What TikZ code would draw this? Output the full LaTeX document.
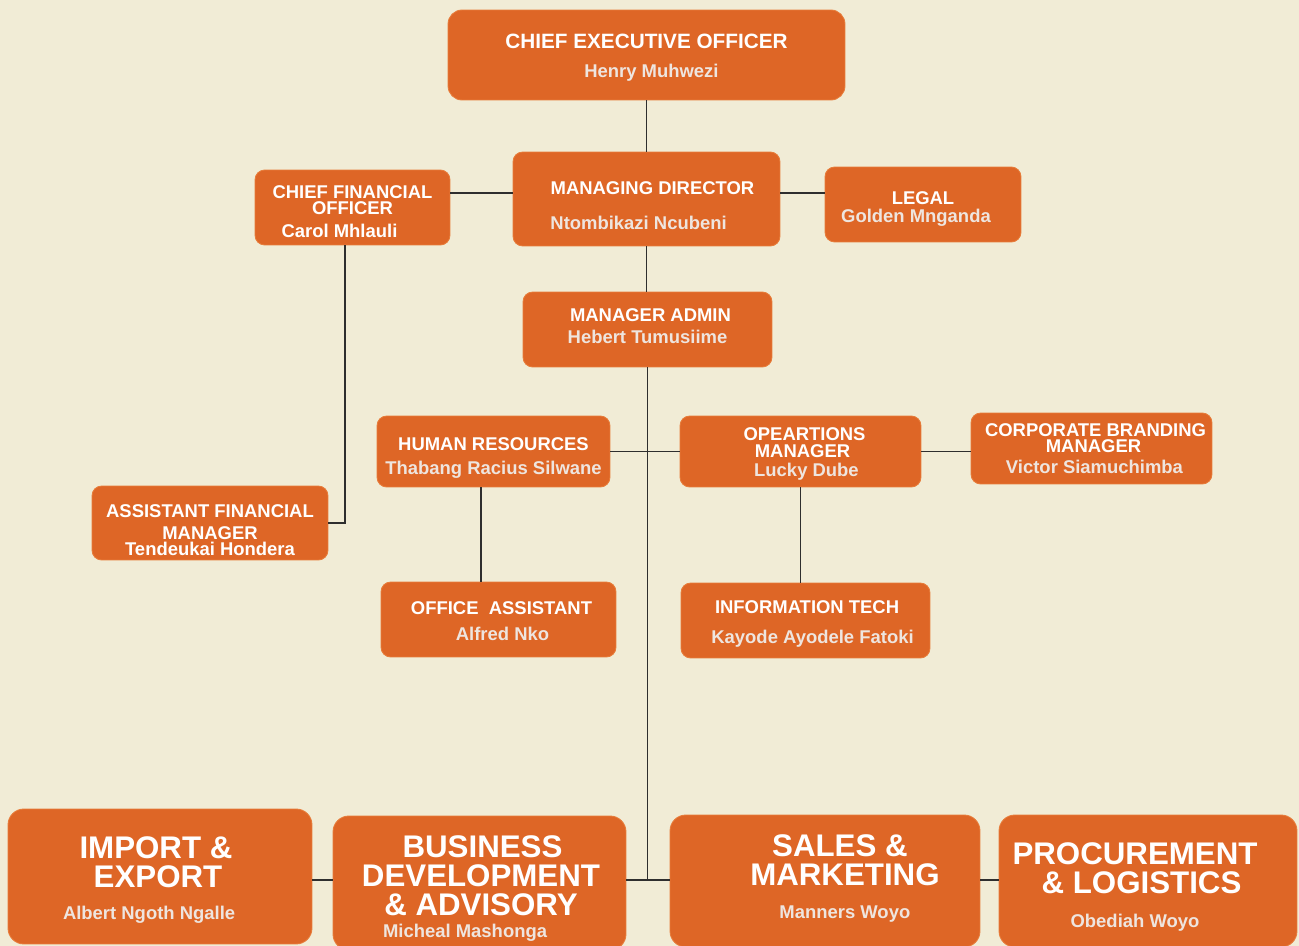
\documentclass[tikz,border=0pt]{standalone}
\usepackage{fontspec}
\setmainfont{Liberation Sans}

\definecolor{pagebg}{HTML}{F1ECD6}
\definecolor{unitfill}{HTML}{DE6626}
\definecolor{unitedge}{HTML}{E77C3A}
\definecolor{namegrey}{HTML}{EEE5DF}
\definecolor{linkgrey}{HTML}{2E2E2E}

\newcommand{\who}[1]{{\fontsize{10.5}{9.1}\selectfont\color{namegrey}#1}}
\newcommand{\tightlines}{\lineskiplimit=-20pt\relax}
% move one line sideways / push the text block down or up
\newcommand{\offset}[2]{\hspace*{#1}#2\hspace*{-#1}}
\newcommand{\drop}[1]{\vrule width 0pt height \dimexpr\fontcharht\font`\H+#1\relax depth 0pt}
\newcommand{\lift}[1]{\vrule width 0pt height 0pt depth #1}

\tikzset{
  unit/.style={draw=unitedge, line width=0.5pt, fill=unitfill, rounded corners=5.5pt,
    text=white, align=center, inner sep=0pt,
    font=\bfseries\fontsize{10.5}{9.1}\selectfont\tightlines},
  division/.style={unit, rounded corners=9pt,
    font=\bfseries\fontsize{17.8}{16.4}\selectfont\tightlines},
  link/.style={draw=linkgrey, line width=0.7pt}
}

\begin{document}
\begin{tikzpicture}[x=0.02cm,y=-0.02cm]
      \useasboundingbox (0,0) rectangle (1299,946);
      \fill[pagebg] (0,0) rectangle (1299,946);

      \node[unit, rounded corners=8pt, minimum width=7.94cm, minimum height=1.8cm] at (646.5,55) (ceo)
        {{\fontsize{11.8}{9.1}\selectfont\drop{3.4pt}CHIEF EXECUTIVE OFFICER}\\[7.3pt]\offset{2.8pt}{\who{Henry Muhwezi}}};
      \node[unit, minimum width=5.34cm, minimum height=1.88cm] at (646.5,199) (md)
        {\offset{3.4pt}{\drop{7.9pt}MANAGING DIRECTOR}\\[10.7pt]\offset{-4.5pt}{\who{Ntombikazi Ncubeni}}};
      \node[unit, minimum width=3.9cm, minimum height=1.5cm] at (352.5,207.5) (cfo)
        {\drop{4.5pt}CHIEF FINANCIAL\\OFFICER\\[3.9pt]\offset{-7.4pt}{Carol Mhlauli}};
      \node[unit, minimum width=3.92cm, minimum height=1.5cm] at (923,204.5) (legal)
        {\drop{5.7pt}LEGAL\\[1.1pt]\offset{-4pt}{\who{Golden Mnganda}}};
      \node[unit, minimum width=4.98cm, minimum height=1.5cm] at (647.5,329.5) (admin)
        {\offset{1.7pt}{MANAGER ADMIN}\\[3.9pt]\who{Hebert Tumusiime}\lift{4pt}};
      \node[unit, minimum width=4.66cm, minimum height=1.42cm] at (493.5,451.5) (hr)
        {\drop{7.4pt}HUMAN RESOURCES\\[4.5pt]\who{Thabang Racius Silwane}};
      \node[unit, minimum width=4.82cm, minimum height=1.42cm] at (800.5,451.5) (ops)
        {\offset{2.3pt}{\drop{2.8pt}OPEARTIONS}\\[0.5pt]\offset{2.3pt}{MANAGER}\\[1.7pt]\offset{3.4pt}{\who{Lucky Dube}}};
      \node[unit, minimum width=4.82cm, minimum height=1.42cm] at (1091.5,448.5) (brand)
        {\offset{2.3pt}{CORPORATE BRANDING}\\\offset{2.3pt}{MANAGER}\\[2.8pt]\offset{1.7pt}{\who{Victor Siamuchimba}}};
      \node[unit, minimum width=4.72cm, minimum height=1.48cm] at (210,523) (afm)
        {\drop{7.9pt}ASSISTANT FINANCIAL\\[3.4pt]MANAGER\\Tendeukai Hondera};
      \node[unit, minimum width=4.7cm, minimum height=1.5cm] at (498.5,619.5) (office)
        {\offset{1.7pt}{\drop{2.3pt}OFFICE\ \ ASSISTANT}\\[5.6pt]\offset{2.3pt}{\who{Alfred Nko}}};
      \node[unit, minimum width=4.98cm, minimum height=1.5cm] at (805.5,620.5) (it)
        {\offset{0.9pt}{\drop{4pt}INFORMATION TECH}\\[7.9pt]\offset{4pt}{\who{Kayode Ayodele Fatoki}}};

      \node[division, minimum width=6.08cm, minimum height=2.7cm] at (160,876.5) (impex)
        {\offset{-2.3pt}{\drop{4.5pt}IMPORT \&}\\\offset{-2.3pt}{EXPORT}\\[2.1pt]\offset{-6.2pt}{\who{Albert Ngoth Ngalle}}};
      \node[division, minimum width=5.86cm, minimum height=2.68cm] at (479.5,883) (bizdev)
        {\offset{1.7pt}{\drop{6.8pt}BUSINESS}\\\offset{1.7pt}{DEVELOPMENT}\\\offset{1.7pt}{\& ADVISORY}\\[-3.6pt]\offset{-8.2pt}{\who{Micheal Mashonga}}};
      \node[division, minimum width=6.2cm, minimum height=2.64cm] at (825,881) (sales)
        {\offset{8.5pt}{SALES \&}\\\offset{22.7pt}{MARKETING}\\[2.1pt]\offset{11.3pt}{\who{Manners Woyo}\lift{5pt}}};
      \node[division, minimum width=5.96cm, minimum height=2.64cm] at (1148,881) (proc)
        {\offset{-7.4pt}{\drop{7.4pt}PROCUREMENT}\\\offset{-7.4pt}{\& LOGISTICS}\\[3.2pt]\offset{-7.4pt}{\who{Obediah Woyo}}};

      \coordinate (topbar) at (646,193);
      \coordinate (hub) at (646,880);

      % draw edges
      \draw[link] (ceo.south) -- (md.north);
      \draw[link] (cfo.east |- topbar) -- (md.west |- topbar);
      \draw[link] (md.east |- topbar) -- (legal.west |- topbar);
      \draw[link] (md.south) -- (md.south |- admin.north);
      \draw[link] ([xshift=-0.15cm]cfo.south) |- (afm.east);
      \draw[link] (admin.south) -- (admin.south |- hub);
      \draw[link] (hr) -- (ops);
      \draw[link] (ops.east) -- (ops.east -| brand.west);
      \draw[link] ([xshift=-0.25cm]hr.south) -- ([xshift=-0.25cm]hr.south |- office.north);
      \draw[link] (ops.south) -- (ops.south |- it.north);
      \draw[link] (impex.east |- hub) -- (bizdev.west |- hub);
      \draw[link] (bizdev.east |- hub) -- (sales.west |- hub);
      \draw[link] (sales.east |- hub) -- (proc.west |- hub);
  \end{tikzpicture}
\end{document}
